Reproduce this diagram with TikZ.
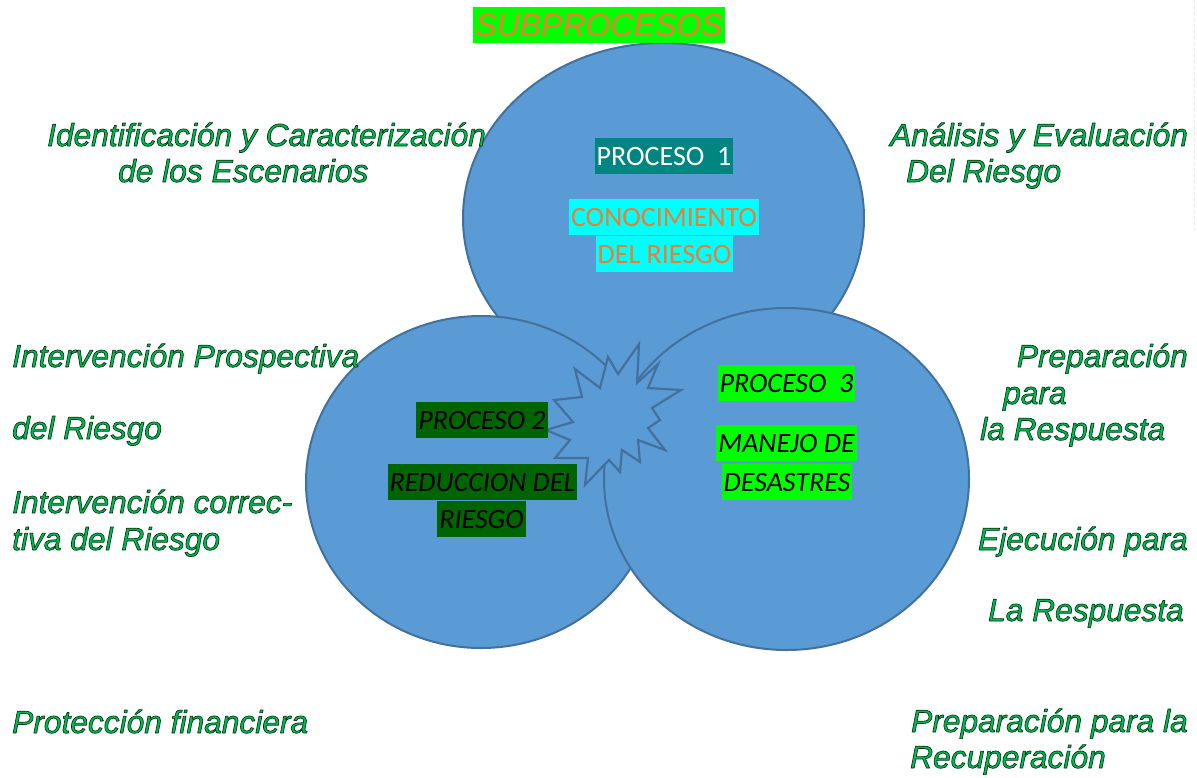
\documentclass[tikz,border=0pt]{standalone}
\usepackage{fontspec}
\setmainfont{Liberation Sans}
\newfontfamily\arialf{Liberation Sans}
\newfontfamily\calibf{Carlito}
\definecolor{blobfill}{RGB}{91,155,213}
\definecolor{blobedge}{RGB}{65,113,156}
\definecolor{sidegreen}{RGB}{0,186,84}
\definecolor{orng}{RGB}{237,125,49}
\definecolor{tealbox}{RGB}{0,133,128}
\definecolor{cyanbox}{RGB}{0,255,255}
\definecolor{dkgreen}{RGB}{0,100,0}
\definecolor{ltgreen}{RGB}{0,255,0}
\newcommand\outl[1]{\special{pdf:literal direct 0 0.18 0.06 RG 0.65 w 1 j 2 Tr}#1\special{pdf:literal direct 0 Tr}}
\begin{document}
\begin{tikzpicture}[x=1pt,y=-1pt,
  blob/.style={fill=blobfill,draw=blobedge,line width=2pt},
  burst/.style={fill=blobfill,draw=blobedge,line width=2.2pt,line join=miter},
  lbl/.style={inner xsep=2pt,inner ysep=4pt,font=\calibf\fontsize{28}{30}\selectfont,
              text height=23pt,text depth=5pt,anchor=base},
  lbli/.style={lbl,font=\calibf\itshape\fontsize{28}{30}\selectfont},
  side/.style={text=sidegreen,font=\arialf\itshape\fontsize{31.7}{34}\selectfont,
               inner sep=0pt,anchor=base west},
  sider/.style={side,anchor=base east}]
\useasboundingbox (0,0) rectangle (1197,777);
\fill[white] (0,0) rectangle (1197,777);
\draw[gray!18,dashed,line width=0.8pt] (1194,0) -- (1194,230);

% circles
\draw[blob] (663.5,218) ellipse [x radius=200.5pt, y radius=175pt];
\draw[blob] (481,482) ellipse [x radius=175pt, y radius=166pt];
\draw[blob] (786.5,479) ellipse [x radius=182.5pt, y radius=171pt];

% starburst
\draw[burst] (639,344) -- (637,383) -- (658,364) -- (648,388) -- (681,390) -- (652,408)
  -- (660,420) -- (648,428) -- (665,450) -- (638,440) -- (640,462) -- (622,450)
  -- (620,472) -- (609,460) -- (585,485) -- (588,458) -- (555,458) -- (570,440)
  -- (546,430) -- (573,422) -- (554,400) -- (582,397) -- (575,369) -- (600,388)
  -- (608,357) -- (618,374) -- cycle;

% title
\node[fill=ltgreen,text=orng,inner xsep=2pt,inner ysep=4pt,anchor=base,
      font=\arialf\itshape\fontsize{32}{34}\selectfont,text height=25pt,text depth=3pt]
  (title) at (599,36) {SUBPROCESOS};

% process 1
\node[lbl,fill=tealbox,text=white] (p1) at (664,165) {PROCESO\ \ 1};
\node[lbl,fill=cyanbox,text=orng] (p1a) at (664,226) {CONOCIMIENTO};
\node[lbl,fill=cyanbox,text=orng] (p1b) at (664.5,263) {DEL RIESGO};

% process 2
\node[lbli,fill=dkgreen,text=black] (p2) at (482,429) {PROCESO 2};
\node[lbli,fill=dkgreen,text=black] (p2a) at (482.5,491) {REDUCCION DEL};
\node[lbli,fill=dkgreen,text=black] (p2b) at (481.5,528) {RIESGO};

% process 3
\node[lbli,fill=ltgreen,text=black] (p3) at (786.5,392) {PROCESO\ \ 3};
\node[lbli,fill=ltgreen,text=black] (p3a) at (786.5,452) {MANEJO DE};
\node[lbli,fill=ltgreen,text=black] (p3b) at (787,491) {DESASTRES};

% left side texts
\node[side] (l1) at (47,146) {\outl{Identificación y Caracterización}};
\node[side] (l2) at (118,182) {\outl{de los Escenarios}};
\node[side] (l3) at (12,367) {\outl{Intervención Prospectiva}};
\node[side] (l4) at (12,439) {\outl{del Riesgo}};
\node[side] (l5) at (12,513) {\outl{Intervención correc-}};
\node[side] (l6) at (12,550) {\outl{tiva del Riesgo}};
\node[side] (l7) at (12,733) {\outl{Protección financiera}};

% right side texts
\node[side] (r1) at (890,146) {\outl{Análisis y Evaluación}};
\node[side] (r2) at (906,182) {\outl{Del Riesgo}};
\node[sider] (r3) at (1188,367) {\outl{Preparación}};
\node[side] (r4) at (1003,404) {\outl{para}};
\node[side] (r5) at (980,440) {\outl{la Respuesta}};
\node[sider] (r6) at (1188,550) {\outl{Ejecución para}};
\node[side] (r7) at (988,621) {\outl{La Respuesta}};
\node[sider] (r8) at (1188,732) {\outl{Preparación para la}};
\node[side] (r9) at (910,768) {\outl{Recuperación}};
\end{tikzpicture}
\end{document}
